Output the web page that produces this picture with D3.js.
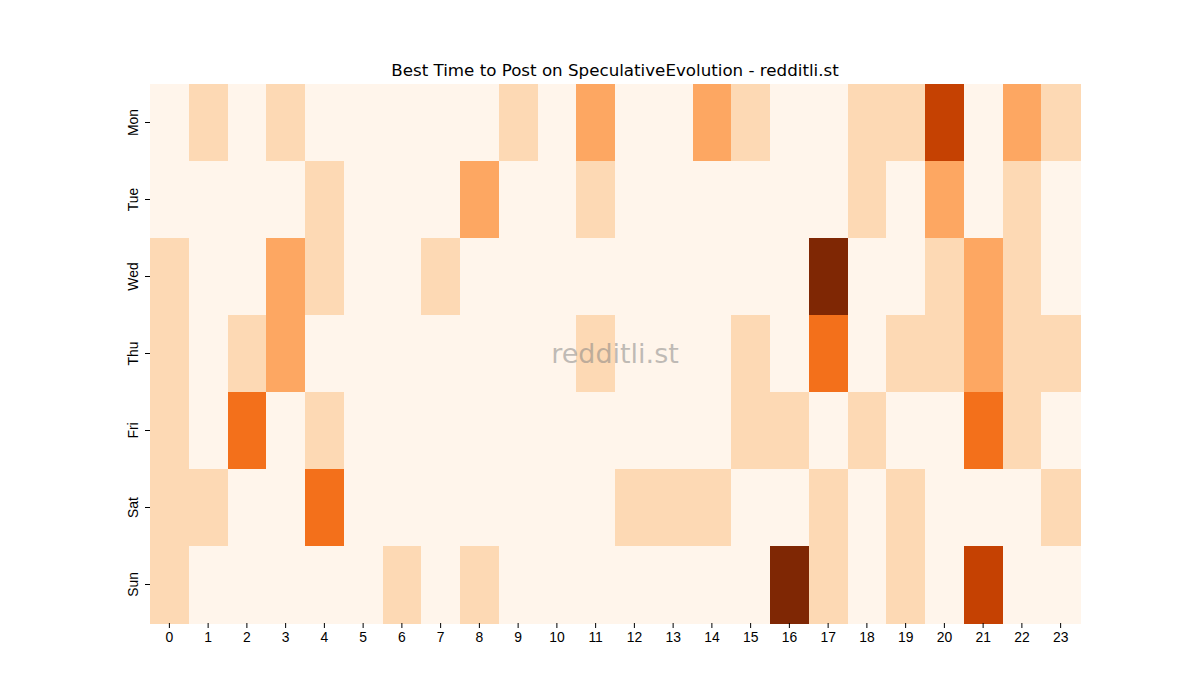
<!DOCTYPE html>
<html>
<head>
<meta charset="utf-8">
<script src="https://cdn.jsdelivr.net/npm/d3@7"></script>
<style>
  body { margin: 0; background: #fff; }
  svg { font-family: "DejaVu Sans", sans-serif; }
</style>
</head>
<body>
<div id="container"></div>
<script>
/* CONSTANTS AND GLOBALS */
const width = 1200,
  height = 700,
  margin = {top: 84, bottom: 77, left: 150, right: 120};

// data (post score per weekday / hour)
const days = ["Mon", "Tue", "Wed", "Thu", "Fri", "Sat", "Sun"];
const hours = d3.range(24).map(String);
const mon = [0,1,0,1,0,0,0,0,0,1,0,2,0,0,2,1,0,0,1,1,4,0,2,1];
const tue = [0,0,0,0,1,0,0,0,2,0,0,1,0,0,0,0,0,0,1,0,2,0,1,0];
const wed = [1,0,0,2,1,0,0,1,0,0,0,0,0,0,0,0,0,5,0,0,1,2,1,0];
const thu = [1,0,1,2,0,0,0,0,0,0,0,1,0,0,0,1,0,3,0,1,1,2,1,1];
const fri = [1,0,3,0,1,0,0,0,0,0,0,0,0,0,0,1,1,0,1,0,0,3,1,0];
const sat = [1,1,0,0,3,0,0,0,0,0,0,0,1,1,1,0,0,1,0,1,0,0,0,1];
const sun = [1,0,0,0,0,0,1,0,1,0,0,0,0,0,0,0,5,1,0,1,0,4,0,0];
const rows = [mon, tue, wed, thu, fri, sat, sun];

// matplotlib "Oranges" stops
const orangeStops = ["#fff5eb","#fee6ce","#fdd0a2","#fdae6b","#fd8d3c","#f16913","#d94801","#a63603","#7f2704"];

const cells = [];
rows.forEach((vals, i) => vals.forEach((v, j) => cells.push({day: days[i], hour: hours[j], value: v})));

/* SCALES */
const xScale = d3.scaleBand()
  .domain(hours)
  .range([margin.left, width - margin.right]);

const yScale = d3.scaleBand()
  .domain(days)
  .range([margin.top, height - margin.bottom]);

const vmax = d3.max(cells, d => d.value);
const colorScale = d3.scaleLinear()
  .domain(orangeStops.map((c, i) => i / (orangeStops.length - 1) * vmax))
  .range(orangeStops)
  .interpolate(d3.interpolateRgb);

/* SVG */
const svg = d3.select("#container")
  .append("svg")
  .attr("width", width)
  .attr("height", height);

svg.selectAll("rect.cell")
  .data(cells)
  .join("rect")
  .attr("class", "cell")
  .attr("x", d => xScale(d.hour))
  .attr("y", d => yScale(d.day))
  .attr("width", xScale.bandwidth() + 0.5)
  .attr("height", yScale.bandwidth() + 0.5)
  .attr("fill", d => colorScale(d.value))
  .attr("shape-rendering", "crispEdges");

/* AXES */
const xAxis = d3.axisBottom(xScale).tickSize(5).tickPadding(4);
const yAxis = d3.axisLeft(yScale).tickSize(5).tickPadding(4);

const xAxisGroup = svg.append("g")
  .attr("transform", `translate(0,${height - margin.bottom})`)
  .call(xAxis);
xAxisGroup.select(".domain").remove();
xAxisGroup.selectAll("text").style("font-size", "13.9px").attr("fill", "#000");
xAxisGroup.selectAll("line").attr("stroke", "#000");

const yAxisGroup = svg.append("g")
  .attr("transform", `translate(${margin.left},0)`)
  .call(yAxis);
yAxisGroup.select(".domain").remove();
yAxisGroup.selectAll("line").attr("stroke", "#000");
yAxisGroup.selectAll("text")
  .style("font-size", "13.9px")
  .attr("fill", "#000")
  .attr("x", null)
  .attr("dy", null)
  .attr("text-anchor", "middle")
  .attr("transform", "translate(-12,0) rotate(-90)");

/* TITLE AND WATERMARK */
svg.append("text")
  .attr("x", (margin.left + width - margin.right) / 2)
  .attr("y", 76)
  .attr("text-anchor", "middle")
  .style("font-size", "16.7px")
  .text("Best Time to Post on SpeculativeEvolution - redditli.st");

svg.append("text")
  .attr("x", (margin.left + width - margin.right) / 2)
  .attr("y", (margin.top + height - margin.bottom) / 2)
  .attr("dy", "0.35em")
  .attr("text-anchor", "middle")
  .attr("fill", "#808080")
  .attr("fill-opacity", 0.5)
  .style("font-size", "27px")
  .text("redditli.st");
</script>
</body>
</html>
